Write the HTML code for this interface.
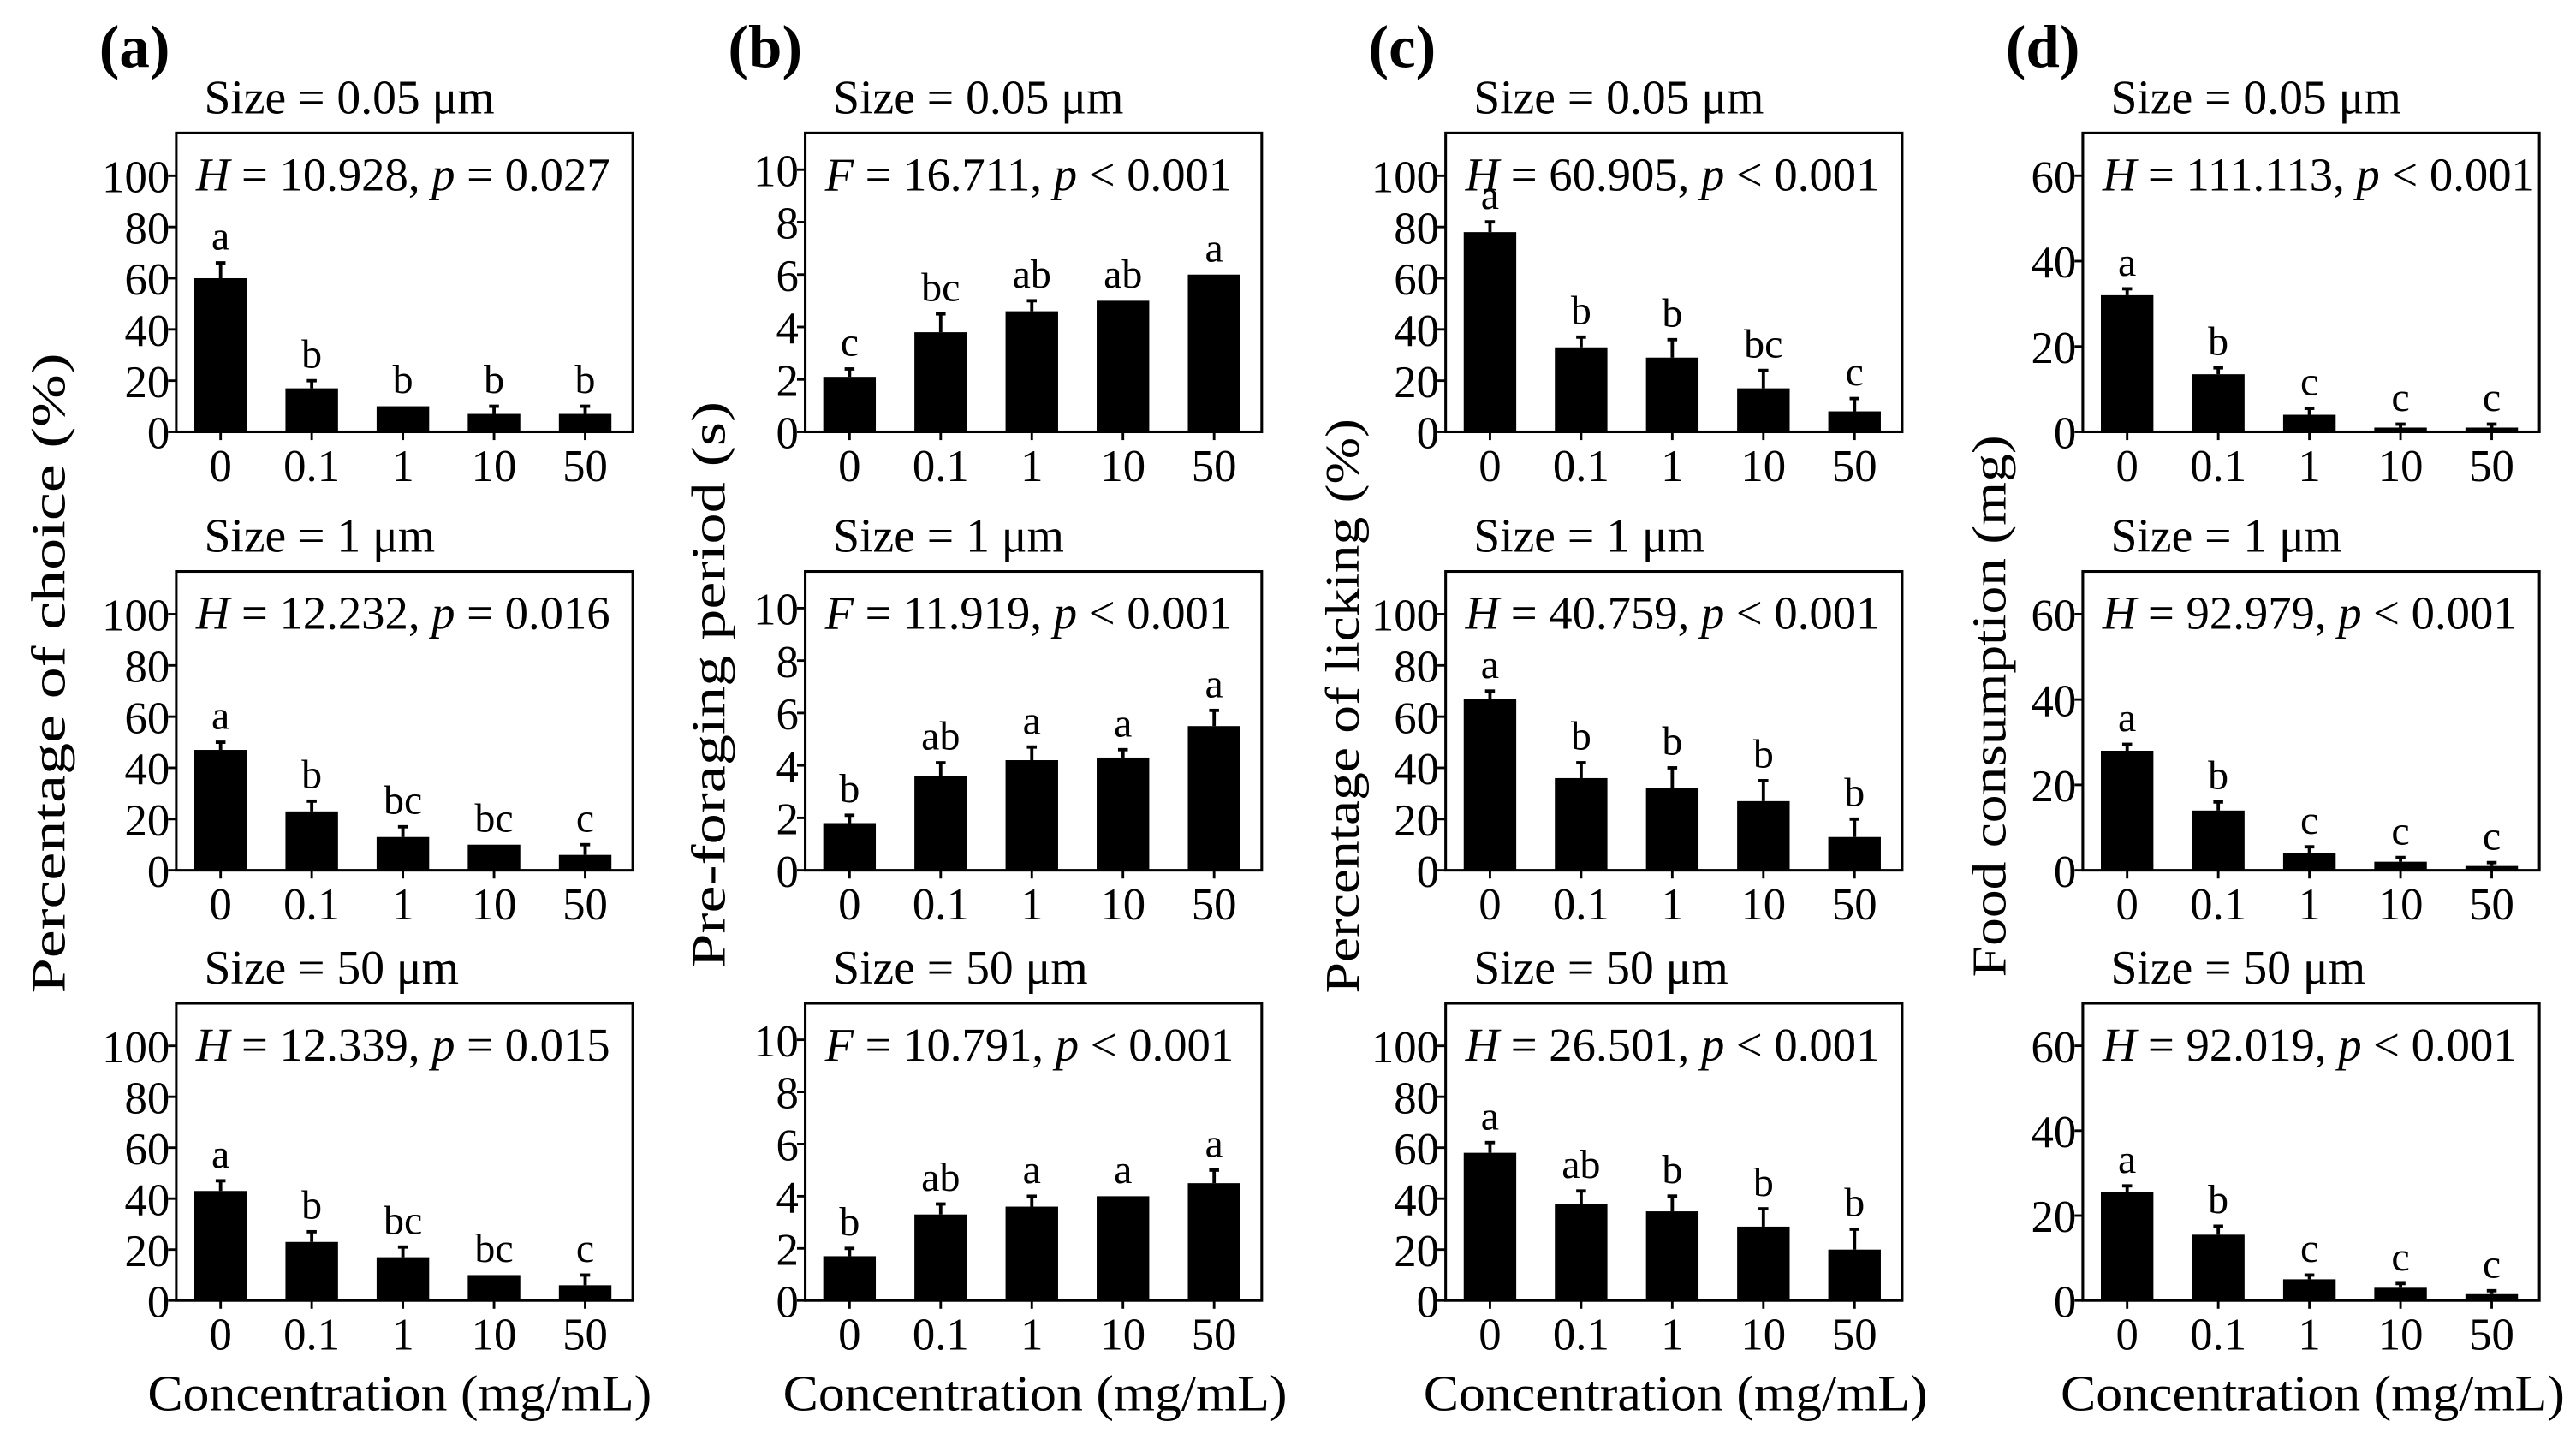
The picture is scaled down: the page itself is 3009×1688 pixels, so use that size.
<!DOCTYPE html>
<html><head><meta charset="utf-8">
<style>
html,body{margin:0;padding:0;background:#fff;}
svg{display:block;font-family:"Liberation Serif","Times New Roman",serif;}
</style></head>
<body>
<svg id="fig" width="3009" height="1688" viewBox="0 0 1568 880" xmlns="http://www.w3.org/2000/svg"></svg>
<script>
// ---- data ----
const categories = ["0","0.1","1","10","50"];
const sizes = ["0.05","1","50"];
const aMeans = [[60,17,10,7,7],[47,23,13,10,6],[43,23,17,10,6]];
const aErr   = [[6,3,0,3,3],[3,4,4,0,4],[4,4,4,0,4]];
const aLetters = [["a","b","b","b","b"],["a","b","bc","bc","c"],["a","b","bc","bc","c"]];
const aStats = [["H","10.928","=","0.027"],["H","12.232","=","0.016"],["H","12.339","=","0.015"]];
const bMeans = [[2.1,3.8,4.6,5.0,6.0],[1.8,3.6,4.2,4.3,5.5],[1.7,3.3,3.6,4.0,4.5]];
const bErr   = [[0.3,0.7,0.4,0,0],[0.3,0.5,0.5,0.3,0.6],[0.3,0.4,0.4,0,0.5]];
const bLetters = [["c","bc","ab","ab","a"],["b","ab","a","a","a"],["b","ab","a","a","a"]];
const bStats = [["F","16.711","<","0.001"],["F","11.919","<","0.001"],["F","10.791","<","0.001"]];
const cMeans = [[78,33,29,17,8],[67,36,32,27,13],[58,38,35,29,20]];
const cErr   = [[4,4,7,7,5],[3,6,8,8,7],[4,5,6,7,8]];
const cLetters = [["a","b","b","bc","c"],["a","b","b","b","b"],["a","ab","b","b","b"]];
const cStats = [["H","60.905","<","0.001"],["H","40.759","<","0.001"],["H","26.501","<","0.001"]];
const dMeans = [[32,13.5,4,1,1],[28,14,4,2,1],[25.5,15.5,5,3,1.5]];
const dErr   = [[1.5,1.5,1.5,0.8,0.8],[1.5,2,1.5,1,0.8],[1.5,2,1,1,0.8]];
const dLetters = [["a","b","c","c","c"],["a","b","c","c","c"],["a","b","c","c","c"]];
const dStats = [["H","111.113","<","0.001"],["H","92.979","<","0.001"],["H","92.019","<","0.001"]];
const aTicks = [0,20,40,60,80,100];
const bTicks = [0,2,4,6,8,10];
const cTicks = [0,20,40,60,80,100];
const dTicks = [0,20,40,60];
const yTitles = ["Percentage of choice (%)","Pre-foraging period (s)","Percentage of licking (%)","Food consumption (mg)"];
const panelLabels = ["(a)","(b)","(c)","(d)"];

// ---- layout ----
const NS="http://www.w3.org/2000/svg";
const svg=document.getElementById('fig');
function el(tag,attrs,parent){const e=document.createElementNS(NS,tag);for(const k in attrs)e.setAttribute(k,attrs[k]);(parent||svg).appendChild(e);return e;}
const colLeft=[107,490,880,1268];
const boxW=278;
const rowAxis=[263,530,792];
const rowTop=[81,348,611];
const yMaxes=[116.7,11.4,116.7,70];
const yTitleX=[30,432,818,1212];
const yTitleY=[410,417,430,430];
const yTitleLen=[390,345,350,330];
const xTitleX=[243,630,1020,1408];
const panels=[
 {means:aMeans,err:aErr,letters:aLetters,stats:aStats,ticks:aTicks},
 {means:bMeans,err:bErr,letters:bLetters,stats:bStats,ticks:bTicks},
 {means:cMeans,err:cErr,letters:cLetters,stats:cStats,ticks:cTicks},
 {means:dMeans,err:dErr,letters:dLetters,stats:dStats,ticks:dTicks}
];

panels.forEach((p,c)=>{
  const L=colLeft[c];
  const lab=el('text',{x:L-47,y:41,'font-size':37,'font-weight':'bold'});
  lab.textContent=panelLabels[c];
  
  
  const yt=el('text',{x:0,y:0,'font-size':29,'text-anchor':'middle',textLength:yTitleLen[c],lengthAdjust:'spacingAndGlyphs',transform:`translate(${yTitleX[c]+9},${yTitleY[c]}) rotate(-90)`});
  yt.textContent=yTitles[c];
  
  
  const xt=el('text',{x:xTitleX[c],y:859,'font-size':31,'text-anchor':'middle',textLength:307,lengthAdjust:'spacingAndGlyphs'});
  xt.textContent="Concentration (mg/mL)";
  
  

  for(let r=0;r<3;r++){
    const g=el('g',{});
    
    
    const y0=rowAxis[r], top=rowTop[r];
    const ymax=yMaxes[c];
    const ys=v=>y0-(v/ymax)*(y0-top);
    const xs=i=>L+27+i*55.5;
    const t=el('text',{x:L+17,y:top-12,'font-size':29},g);
    t.textContent="Size = "+sizes[r]+" \u03BCm";
    
    
    const box=el('rect',{x:L,y:top,width:boxW,height:y0-top,fill:'none',stroke:'#000','stroke-width':1.6},g);
    
    
    const st=p.stats[r];
    const s=el('text',{x:L+12,y:top+35,'font-size':28.5},g);
    
    
    s.innerHTML=`<tspan font-style="italic">${st[0]}</tspan> = ${st[1]}, <tspan font-style="italic">p</tspan> ${st[2]} ${st[3]}`;
    p.ticks.forEach(v=>{
      const yy=ys(v);
      const tk=el('line',{x1:L-5,x2:L,y1:yy,y2:yy,stroke:'#000','stroke-width':1.5},g);
      
      
      const tl=el('text',{x:L-4,y:yy+10,'font-size':27.5,'text-anchor':'end'},g);
      tl.textContent=v;
      
      
    });
    categories.forEach((cat,i)=>{
      const m=p.means[r][i], e=p.err[r][i], x=xs(i);
      const bar=el('rect',{x:x-16,y:ys(m),width:32,height:y0-ys(m),fill:'#000'},g);
      
      
      if(e>0){
        const eb=el('line',{x1:x,x2:x,y1:ys(m),y2:ys(m+e),stroke:'#000','stroke-width':2},g);
        
        
        const cap=el('line',{x1:x-3,x2:x+3,y1:ys(m+e),y2:ys(m+e),stroke:'#000','stroke-width':2},g);
        
        
      }
      const lt=el('text',{x:x,y:ys(m+e)-8,'font-size':25,'text-anchor':'middle'},g);
      lt.textContent=p.letters[r][i];
      
      
      const xtk=el('line',{x1:x,x2:x,y1:y0,y2:y0+5,stroke:'#000','stroke-width':1.5},g);
      
      
      const xl=el('text',{x:x,y:y0+30,'font-size':27.5,'text-anchor':'middle'},g);
      xl.textContent=cat;
      
      
    });
  }
});
</script>
</body></html>
